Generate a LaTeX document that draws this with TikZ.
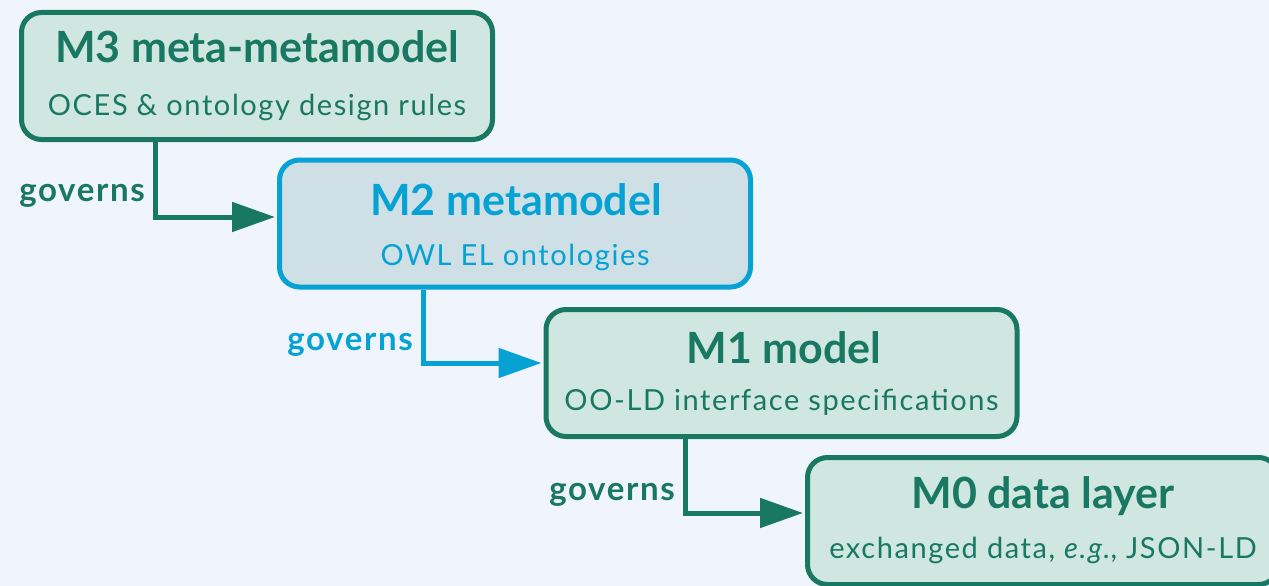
\documentclass[tikz,border=0pt]{standalone}
\usepackage{fontspec}
\setmainfont{Lato}
\usetikzlibrary{arrows.meta}
\definecolor{gr}{RGB}{24,120,98}
\definecolor{grfill}{RGB}{208,230,224}
\definecolor{bl}{RGB}{5,162,211}
\definecolor{blfill}{RGB}{206,223,230}
\definecolor{bg}{RGB}{240,245,253}
\begin{document}
\begin{tikzpicture}[x=1pt,y=-1pt,
 box/.style={draw, line width=5pt, rounded corners=20pt, minimum width=471pt, minimum height=127pt, inner sep=0pt},
 title/.style={font=\fontsize{43}{48}\selectfont\bfseries, anchor=base, inner sep=0pt},
 sub/.style={font=\fontsize{29}{34}\selectfont\addfontfeatures{LetterSpace=5.5}, anchor=base, inner sep=0pt},
 lbl/.style={font=\fontsize{33}{38}\selectfont\bfseries\addfontfeatures{LetterSpace=5}, anchor=base east, inner sep=0pt},
 arr/.style={line width=5pt, shorten >=2pt, -{Triangle[length=43pt,width=29pt]}}]
\fill[bg] (0,0) rectangle (1269,586);
\useasboundingbox (0,0) rectangle (1269,586);
\clip (0,0) rectangle (1269,586);

\node[box, draw=gr, fill=grfill] (m3) at (257,76) {};
\node[box, draw=bl, fill=blfill] (m2) at (515,223.5) {};
\node[box, draw=gr, fill=grfill] (m1) at (781.5,373) {};
\node[box, draw=gr, fill=grfill] (m0) at (1043,521) {};

\node[title, text=gr] (t3) at (257,63) {M3 meta-metamodel};
\node[sub, text=gr] (s3) at (257,115) {OCES \& ontology design rules};
\node[title, text=bl] (t2) at (516,215) {M2 metamodel};
\node[sub, text=bl] (s2) at (515,265) {OWL EL ontologies};
\node[title, text=gr] (t1) at (784,363) {M1 model};
\node[sub, text=gr] (s1) at (781.5,410) {OO-LD interface specifications};
\node[title, text=gr] (t0) at (1043,508) {M0 data layer};
\node[sub, text=gr] (s0) at (1043,558) {exchanged data, \textit{e.g.}, JSON-LD};

\draw[arr, gr] ([xshift=136.5pt]m3.south west) |- ([yshift=6.5pt]m2.west);
\draw[arr, bl] ([xshift=146.5pt]m2.south west) |- ([yshift=10pt]m1.west);
\draw[arr, gr] ([xshift=142pt]m1.south west) |- ([yshift=8pt]m0.west);

\node[lbl, text=gr] (g3) at (145,201) {governs};
\node[lbl, text=bl] (g2) at (413,350) {governs};
\node[lbl, text=gr] (g1) at (675,500) {governs};
\end{tikzpicture}
\end{document}
